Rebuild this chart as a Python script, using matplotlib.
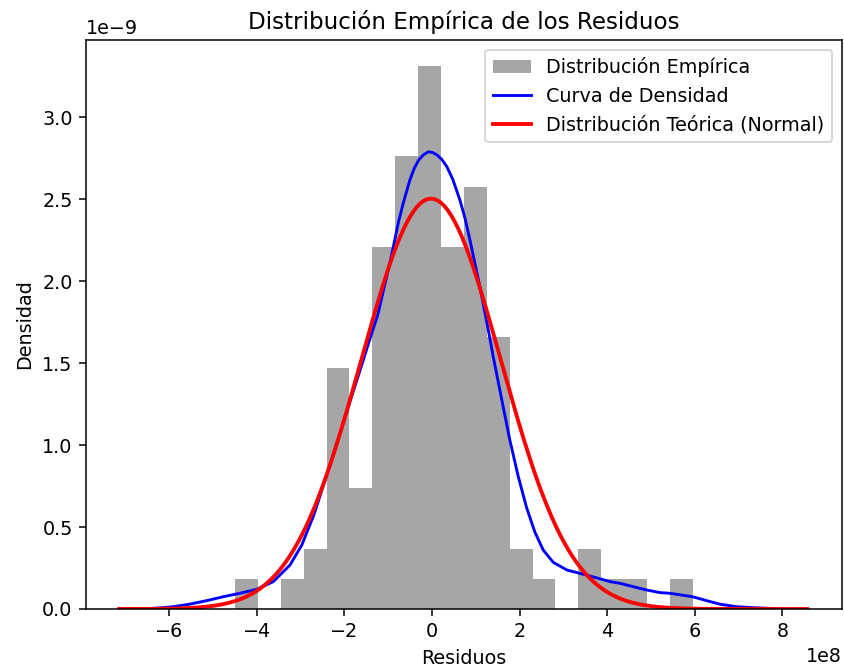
import numpy as np
import matplotlib
matplotlib.use("Agg")
import matplotlib.pyplot as plt

# Histogram of residuals: 20 equal-width bins between these limits (residual units)
bin_lo = -4.494e8
bin_hi = 5.953e8
bin_counts = [1, 0, 1, 2, 8, 4, 12, 15, 18, 12, 14, 9, 2, 1, 0, 2, 1, 1, 0, 1]

# Kernel density estimate of the residuals (x in 1e8, density in 1e-9)
kde_x = [-6.43, -6.20, -5.90, -5.52, -5.14, -4.76, -4.38, -4.00, -3.62, -3.24,
         -2.97, -2.70, -2.42, -2.10, -1.87, -1.60, -1.40, -1.24, -1.10, -0.96,
         -0.88, -0.77, -0.65, -0.50, -0.40, -0.30, -0.20, -0.08, 0.02, 0.12,
         0.22, 0.34, 0.48, 0.64, 0.75, 0.87, 1.10, 1.29, 1.40, 1.63,
         1.78, 1.97, 2.16, 2.35, 2.54, 2.77, 3.08, 3.53, 4.07, 4.29,
         4.60, 4.90, 5.21, 5.43, 5.95, 6.27, 6.58, 6.96, 7.34, 7.86]
kde_y = [0.003, 0.007, 0.014, 0.030, 0.051, 0.075, 0.096, 0.120, 0.167, 0.268,
         0.390, 0.570, 0.800, 1.070, 1.265, 1.490, 1.660, 1.790, 1.950, 2.110,
         2.210, 2.353, 2.480, 2.620, 2.690, 2.740, 2.770, 2.790, 2.785, 2.770,
         2.745, 2.700, 2.620, 2.495, 2.390, 2.250, 1.960, 1.700, 1.540, 1.230,
         1.030, 0.810, 0.620, 0.470, 0.360, 0.285, 0.238, 0.207, 0.167, 0.157,
         0.136, 0.116, 0.100, 0.096, 0.075, 0.051, 0.029, 0.014, 0.008, 0.002]

# Fitted normal distribution
mu = -0.02e8
sigma = 1.593e8
normal_x_range = (-7.14e8, 8.57e8)

x_limits = (-7.895e8, 9.361e8)
y_limits = (0.0, 3.472e-9)

fig = plt.figure(figsize=(844 / 138, 672 / 138), dpi=138)
ax = fig.add_axes([86 / 844, 63 / 672, 756 / 844, 569 / 672])

edges = np.linspace(bin_lo, bin_hi, len(bin_counts) + 1)
centers = 0.5 * (edges[:-1] + edges[1:])
ax.hist(centers, bins=edges, weights=bin_counts, density=True,
        color="gray", alpha=0.7, label="Distribución Empírica")

ax.plot(np.array(kde_x) * 1e8, np.array(kde_y) * 1e-9, color="blue",
        linewidth=1.5, label="Curva de Densidad")

xs = np.linspace(normal_x_range[0], normal_x_range[1], 200)
pdf = np.exp(-0.5 * ((xs - mu) / sigma) ** 2) / (sigma * np.sqrt(2 * np.pi))
ax.plot(xs, pdf, color="red", linewidth=2, label="Distribución Teórica (Normal)")

ax.set_xlim(*x_limits)
ax.set_ylim(*y_limits)
ax.set_title("Distribución Empírica de los Residuos")
ax.set_xlabel("Residuos")
ax.set_ylabel("Densidad")
ax.legend(loc="upper right")

fig.savefig("out.png", dpi=138)
